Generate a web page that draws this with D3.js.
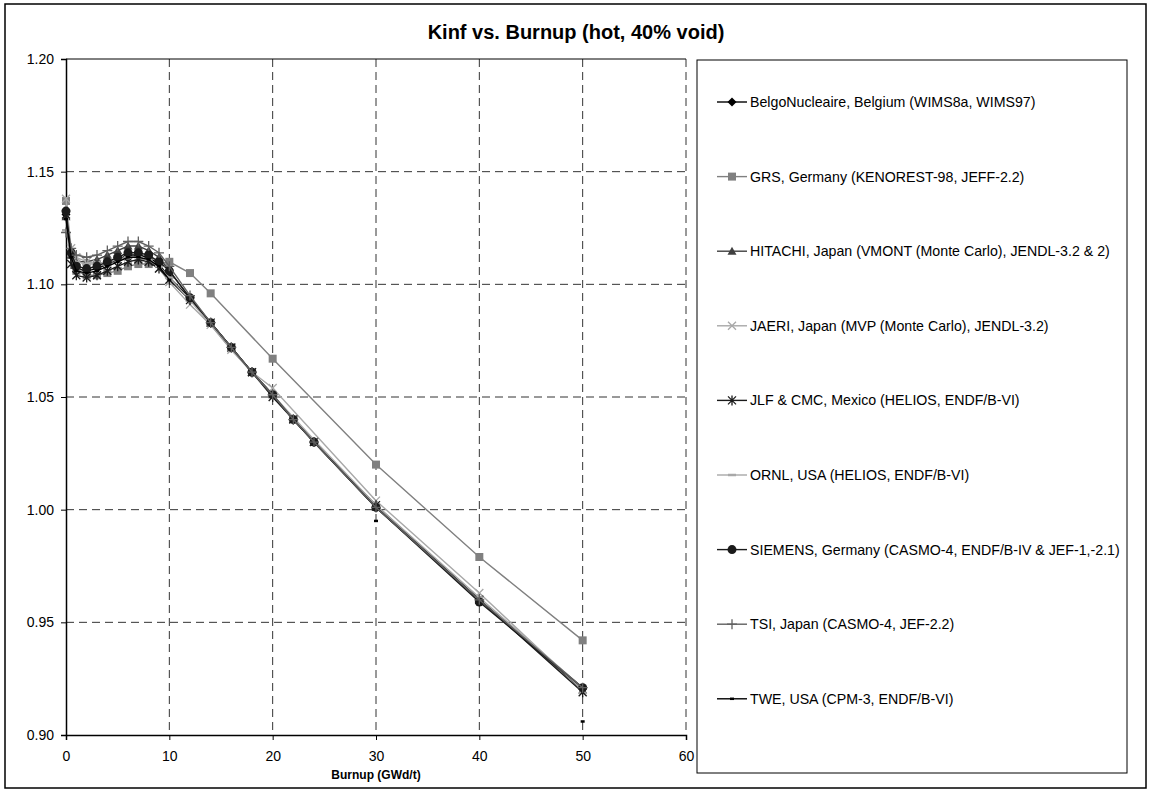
<!DOCTYPE html>
<html>
<head>
<meta charset="utf-8">
<script src="https://cdn.jsdelivr.net/npm/d3@7/dist/d3.min.js"></script>
<style>
body{margin:0;background:#fff;}
#chart{width:1151px;height:792px;}
</style>
</head>
<body>
<div id="chart"></div>
<script>
// burnup points (GWd/t)
var burnup = [0, 0.5, 1, 2, 3, 4, 5, 6, 7, 8, 9, 10, 12, 14, 16, 18, 20, 22, 24, 30, 40, 50];
var burnupGRS = [0, 0.5, 1, 2, 3, 4, 5, 6, 7, 8, 9, 10, 12, 14, 20, 30, 40, 50];
var burnupJAERI = [0, 0.5, 1, 2, 3, 4, 5, 6, 7, 8, 9, 10, 12, 14, 16, 18, 20, 30, 40, 50];

// kinf values, null = no point
var kBelgo   = [1.131, 1.114, 1.107, 1.106, 1.107, 1.109, 1.111, 1.113, 1.113, 1.112, 1.109, 1.103, 1.094, 1.083, 1.072, 1.061, 1.051, 1.040, 1.030, 1.001, 0.960, 0.921];
var kGRS     = [1.137, 1.113, 1.106, 1.104, 1.104, 1.105, 1.106, 1.108, 1.109, 1.109, 1.109, 1.110, 1.105, 1.096, 1.067, 1.020, 0.979, 0.942];
var kHitachi = [1.130, 1.113, 1.110, 1.110, 1.111, 1.113, 1.115, 1.117, 1.117, 1.115, 1.112, 1.106, 1.094, 1.083, 1.072, 1.061, 1.051, 1.040, 1.030, 1.001, 0.960, 0.920];
var kJaeri   = [1.138, 1.116, 1.112, 1.110, 1.109, 1.110, 1.111, 1.112, 1.112, 1.110, 1.107, 1.101, 1.091, 1.082, 1.071, 1.061, 1.054, 1.004, 0.963, 0.920];
var kJlf     = [1.131, 1.109, 1.104, 1.103, 1.104, 1.106, 1.108, 1.110, 1.111, 1.110, 1.107, 1.102, 1.093, 1.083, 1.072, 1.061, 1.050, 1.040, 1.030, 1.002, 0.960, 0.919];
var kOrnl    = [1.124, 1.113, 1.110, 1.109, 1.109, 1.110, 1.111, 1.112, 1.112, 1.111, 1.108, 1.103, 1.093, 1.082, 1.071, 1.061, 1.051, 1.041, 1.031, 1.002, 0.961, 0.921];
var kSiemens = [1.1325, 1.114, 1.108, 1.107, 1.108, 1.110, 1.112, 1.114, 1.114, 1.113, 1.110, 1.106, 1.094, 1.083, 1.072, 1.061, 1.051, 1.040, 1.030, 1.001, 0.959, 0.921];
var kTsi     = [1.123, 1.116, 1.113, 1.112, 1.113, 1.115, 1.117, 1.119, 1.119, 1.117, 1.114, 1.108, 1.095, 1.083, 1.072, 1.061, 1.051, 1.040, 1.030, 1.001, 0.960, 0.921];
var kTwe     = [1.129, 1.112, 1.106, 1.105, 1.106, 1.108, 1.110, 1.112, 1.112, 1.111, 1.108, 1.102, null, null, null, null, null, null, null, 0.995, null, 0.906];

var seriesNames = [
    'BelgoNucleaire, Belgium (WIMS8a, WIMS97)',
    'GRS, Germany (KENOREST-98, JEFF-2.2)',
    'HITACHI, Japan (VMONT (Monte Carlo), JENDL-3.2 & 2)',
    'JAERI, Japan (MVP (Monte Carlo), JENDL-3.2)',
    'JLF & CMC, Mexico (HELIOS, ENDF/B-VI)',
    'ORNL, USA (HELIOS, ENDF/B-VI)',
    'SIEMENS, Germany (CASMO-4, ENDF/B-IV & JEF-1,-2.1)',
    'TSI, Japan (CASMO-4, JEF-2.2)',
    'TWE, USA (CPM-3, ENDF/B-VI)'
];

var xTicks = [0, 10, 20, 30, 40, 50, 60];
var yTicks = [0.90, 0.95, 1.00, 1.05, 1.10, 1.15, 1.20];

/**
 * marker paths, centred on 0,0
 */
function markerPath(type){
    switch(type){
        case 'diamond': return 'M0,-4.5L4.5,0L0,4.5L-4.5,0Z';
        case 'square': return 'M-4,-4L4,-4L4,4L-4,4Z';
        case 'triangle': return 'M0,-4.5L4.5,3.5L-4.5,3.5Z';
        case 'x': return 'M-4,-4L4,4M-4,4L4,-4';
        case 'star': return 'M-4,-4L4,4M-4,4L4,-4M0,-5L0,5';
        case 'dash': return 'M-4,0L4,0';
        case 'tick': return 'M-2,0L2,0';
        case 'plus': return 'M-5,0L5,0M0,-5L0,5';
    }
    return '';
}

function KinfChart(config){
    this.config = config;
    this.$el = d3.select(config.$el);
    this.draw();
    this.legend();
}

/**
 * frame, axes, grid and series
 */
KinfChart.prototype.draw = function(){
    var config = this.config;
    var p = config.plot;

    var $svg = this.$el.append('svg')
        .attr('width', config.width)
        .attr('height', config.height)
        .style('font-family', '"Liberation Sans", Arial, sans-serif');
    this.$svg = $svg;

    $svg.append('rect')
        .attr('x', 5).attr('y', 4)
        .attr('width', config.width - 10).attr('height', config.height - 8)
        .attr('fill', '#fff').attr('stroke', '#000').attr('stroke-width', 1.5);

    $svg.append('text')
        .attr('x', 576).attr('y', 39)
        .attr('text-anchor', 'middle')
        .style('font-size', '20px').style('font-weight', 'bold')
        .text(config.title);

    var x = d3.scaleLinear().domain([0, 60]).range([p.left, p.right]);
    var y = d3.scaleLinear().domain([0.90, 1.20]).range([p.bottom, p.top]);
    this.x = x;
    this.y = y;

    //grid
    var $grid = $svg.append('g').attr('class', 'grid');
    $grid.selectAll('line.gx').data(xTicks.slice(1)).enter().append('line')
        .attr('x1', function(d){ return x(d); }).attr('x2', function(d){ return x(d); })
        .attr('y1', p.top).attr('y2', p.bottom)
        .attr('stroke', '#333').attr('stroke-dasharray', '8,5');
    $grid.selectAll('line.gy').data(yTicks.slice(1, -1)).enter().append('line')
        .attr('y1', function(d){ return y(d); }).attr('y2', function(d){ return y(d); })
        .attr('x1', p.left).attr('x2', p.right)
        .attr('stroke', '#333').attr('stroke-dasharray', '8,5');
    $grid.append('line')
        .attr('x1', p.left).attr('x2', p.right)
        .attr('y1', y(1.20)).attr('y2', y(1.20))
        .attr('stroke', '#000');

    //axis-x
    var axisX = d3.axisBottom(x).tickValues(xTicks).tickSize(5).tickPadding(11).tickFormat(d3.format('d'));
    var $axisX = $svg.append('g').attr('transform', 'translate(0,' + p.bottom + ')').call(axisX);
    //axis-y
    var axisY = d3.axisLeft(y).tickValues(yTicks).tickSize(5).tickPadding(7).tickFormat(d3.format('.2f'));
    var $axisY = $svg.append('g').attr('transform', 'translate(' + p.left + ',0)').call(axisY);
    [$axisX, $axisY].forEach(function($a){
        $a.select('.domain').attr('stroke', '#000').attr('stroke-width', 1.5);
        $a.selectAll('.tick line').attr('stroke', '#000');
        $a.selectAll('text').style('font-family', '"Liberation Sans", Arial, sans-serif').style('font-size', '14px').attr('fill', '#000');
    });

    $svg.append('text')
        .attr('x', (p.left + p.right) / 2).attr('y', 779)
        .attr('text-anchor', 'middle')
        .style('font-size', '12px').style('font-weight', 'bold')
        .text('Burnup (GWd/t)');

    //series
    var line = d3.line()
        .defined(function(d){ return d[1] !== null; })
        .x(function(d){ return x(d[0]); })
        .y(function(d){ return y(d[1]); });

    config.series.forEach(function(s){
        var pts = s.x.map(function(v, i){ return [v, s.values[i]]; });
        var $g = $svg.append('g');
        $g.append('path').attr('d', line(pts))
            .attr('fill', 'none').attr('stroke', s.color).attr('stroke-width', 1.4);
        var defined = pts.filter(function(d){ return d[1] !== null; });
        defined.forEach(function(d){
            drawMarker($g, s, x(d[0]), y(d[1]));
        });
    });
    return this;
};

function drawMarker($g, s, cx, cy){
    if(s.marker === 'circle'){
        $g.append('circle').attr('cx', cx).attr('cy', cy).attr('r', 4.5).attr('fill', s.markerColor);
        return;
    }
    var filled = ['diamond', 'square', 'triangle'].indexOf(s.marker) >= 0;
    var $m = $g.append('path').attr('d', markerPath(s.marker))
        .attr('transform', 'translate(' + cx + ',' + cy + ')');
    if(filled){
        $m.attr('fill', s.markerColor);
    }else{
        $m.attr('fill', 'none').attr('stroke', s.markerColor)
            .attr('stroke-width', (s.marker === 'dash' || s.marker === 'tick') ? 2.5 : 1.3);
    }
}

/**
 * legend box
 */
KinfChart.prototype.legend = function(){
    var config = this.config;
    var lg = config.legendBox;
    var $svg = this.$svg;
    $svg.append('rect')
        .attr('x', lg.x).attr('y', lg.y).attr('width', lg.w).attr('height', lg.h)
        .attr('fill', '#fff').attr('stroke', '#000').attr('stroke-width', 1);
    config.series.forEach(function(s, i){
        var cy = lg.first + i * lg.step;
        var $g = $svg.append('g');
        $g.append('line').attr('x1', 717).attr('x2', 747).attr('y1', cy).attr('y2', cy)
            .attr('stroke', s.color).attr('stroke-width', 1.4);
        drawMarker($g, s, 732, cy);
        $g.append('text').attr('x', 750).attr('y', cy + 5)
            .style('font-size', '14.2px').text(s.name);
    });
};

var colors = ['#000', '#808080', '#404040', '#a8a8a8', '#1a1a1a', '#a8a8a8', '#1a1a1a', '#606060', '#000'];
var markers = ['diamond', 'square', 'triangle', 'x', 'star', 'dash', 'circle', 'plus', 'tick'];
var xs = [burnup, burnupGRS, burnup, burnupJAERI, burnup, burnup, burnup, burnup, burnup];
var ys = [kBelgo, kGRS, kHitachi, kJaeri, kJlf, kOrnl, kSiemens, kTsi, kTwe];

new KinfChart({
    $el: document.getElementById('chart'),
    width: 1151,
    height: 792,
    title: 'Kinf vs. Burnup (hot, 40% void)',
    plot: {left: 66, right: 686, top: 59, bottom: 735},
    legendBox: {x: 697, y: 60, w: 430, h: 713, first: 102, step: 74.6},
    series: seriesNames.map(function(n, i){
        return {name: n, x: xs[i], values: ys[i], color: colors[i], markerColor: colors[i], marker: markers[i]};
    })
});
</script>
</body>
</html>
